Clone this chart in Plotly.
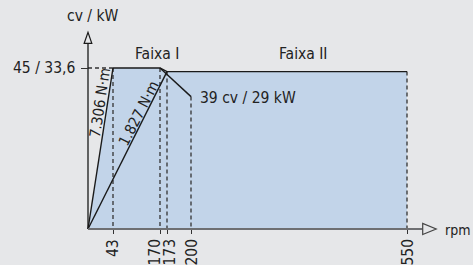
import plotly.graph_objects as go

# ---- data (schematic chart) ----
rpm_labels = ["43", "170", "173", "200", "550"]          # x tick labels (rpm)
rpm_axis_pos = [25, 72, 79, 103, 319]                    # schematic axis positions of those rpm
power_max_cv = 45                                        # 45 cv / 33,6 kW
power_label = "45 / 33,6"
power_flat2_cv = 44                                      # schematic level of Faixa II plateau
power_200_cv = 37                                        # schematic end of falling line (39 cv / 29 kW)
torque_labels = ["7.306 N·m", "1.827 N·m"]
range_labels = ["Faixa I", "Faixa II"]
point_label = "39 cv / 29 kW"

W, H = 473, 265
ORX, ORY = 88, 229          # pixel origin
YS = 161 / 45               # px per cv
FONT = "DejaVu Sans Condensed, Liberation Sans Narrow, Roboto, sans-serif"
FS = 15.5
TXT = "#222222"
LINE = "#1a1a1a"
DASH = "#333333"
BG = "#e6e7e9"
FILL = "#c2d4e9"
label_xshift = [0, -6, 2, 0, 0]   # styling: nudge crowded tick labels

p43, p170, p173, p200, p550 = rpm_axis_pos

fig = go.Figure()

# filled power region
fig.add_trace(go.Scatter(
    x=[0, p43, p170, p173, p550, p550, 0],
    y=[0, power_max_cv, power_max_cv, power_flat2_cv, power_flat2_cv, 0, 0],
    mode="none", fill="toself", fillcolor=FILL, hoverinfo="skip", showlegend=False))

dash_style = dict(color=DASH, width=1.3, dash="4px,3px")
# dashed guides
for xv, yv in [(p43, power_max_cv), (p170, power_max_cv), (p173, power_flat2_cv),
               (p200, power_200_cv), (p550, power_flat2_cv)]:
    fig.add_trace(go.Scatter(x=[xv, xv], y=[yv, 0], mode="lines", line=dash_style,
                             hoverinfo="skip", showlegend=False))
fig.add_trace(go.Scatter(x=[0, p43], y=[power_max_cv, power_max_cv], mode="lines",
                         line=dash_style, hoverinfo="skip", showlegend=False))

solid = dict(color=LINE, width=1.4)
# power outline
fig.add_trace(go.Scatter(x=[p43, p170, p173, p550],
                         y=[power_max_cv, power_max_cv, power_flat2_cv, power_flat2_cv],
                         mode="lines", line=solid, hoverinfo="skip", showlegend=False))
# falling line to 200 rpm
fig.add_trace(go.Scatter(x=[p170, p200], y=[power_max_cv, power_200_cv], mode="lines",
                         line=solid, hoverinfo="skip", showlegend=False))
# torque lines
fig.add_trace(go.Scatter(x=[0, p43], y=[0, power_max_cv], mode="lines", line=solid,
                         hoverinfo="skip", showlegend=False))
fig.add_trace(go.Scatter(x=[0, p173], y=[0, power_flat2_cv], mode="lines", line=solid,
                         hoverinfo="skip", showlegend=False))

# axes lines
y_top = (ORY - 43.3) / YS
fig.add_trace(go.Scatter(x=[0, 0], y=[0, y_top], mode="lines", line=dict(color=LINE, width=1.3),
                         hoverinfo="skip", showlegend=False))
x_end = 422.7 - ORX
fig.add_trace(go.Scatter(x=[0, x_end], y=[0, 0], mode="lines", line=dict(color="#6e6f72", width=2),
                         hoverinfo="skip", showlegend=False))

# arrow heads (hollow)
y_tip = (ORY - 32.3) / YS
fig.add_shape(type="path", xref="x", yref="y",
              path=f"M -3.8 {y_top} L 0 {y_tip} L 3.8 {y_top} Z",
              line=dict(color=LINE, width=1.2), fillcolor=BG)
dy = 5.5 / YS
fig.add_shape(type="path", xref="x", yref="y",
              path=f"M {x_end} {-dy} L {x_end + 13.5} 0 L {x_end} {dy} Z",
              line=dict(color="#444", width=1.2), fillcolor=BG)

def ann(text, x, y, angle=0, xanchor="center", yanchor="middle", size=FS, xshift=0, yshift=0):
    fig.add_annotation(x=x, y=y, text=text, showarrow=False, textangle=angle,
                       xanchor=xanchor, yanchor=yanchor, xshift=xshift, yshift=yshift,
                       borderpad=0, font=dict(family=FONT, size=size, color=TXT))

ann("cv / kW", 93 - ORX, (ORY - 15.7) / YS)
ann(range_labels[0], 157 - ORX, (ORY - 54) / YS)
ann(range_labels[1], 302.7 - ORX, (ORY - 54) / YS)
ann(point_label, 199 - ORX, (ORY - 98) / YS, xanchor="left")
ann("rpm", 444 - ORX, -0.3, xanchor="left", size=14)
ann(torque_labels[0], 100 - ORX, (ORY - 103) / YS, angle=-81.5, size=15)
ann(torque_labels[1], 138.5 - ORX, (ORY - 114) / YS, angle=-63, size=15)
ann(power_label, 75.5 - ORX, power_max_cv, xanchor="right")

# rotated rpm tick labels
for pos, lab, sh in zip(rpm_axis_pos, rpm_labels, label_xshift):
    ann(lab, pos, 0, angle=-90, yanchor="top", xshift=sh, yshift=-9)

fig.update_layout(
    width=W, height=H, margin=dict(l=0, r=0, t=0, b=0, autoexpand=False),
    paper_bgcolor=BG, plot_bgcolor=BG,
    font=dict(family=FONT, size=FS, color=TXT),
    xaxis=dict(range=[-ORX, W - ORX], domain=[0, 1], showgrid=False, zeroline=False,
               automargin=False, anchor="free", position=(H - ORY) / H,
               showline=False, tickvals=rpm_axis_pos, showticklabels=False,
               ticks="outside", ticklen=4, tickwidth=1.3, tickcolor=DASH, fixedrange=True),
    yaxis=dict(range=[-(H - ORY) / YS, ORY / YS], domain=[0, 1], anchor="free",
               position=ORX / W, showgrid=False, automargin=False,
               zeroline=False, showline=False, tickvals=[power_max_cv], showticklabels=False,
               ticks="outside", ticklen=7, tickwidth=1.3, tickcolor=DASH, fixedrange=True),
    showlegend=False,
)

fig.write_html("out.html", config={"displayModeBar": False},
               post_script="document.body.style.margin='0';document.body.style.background='#e6e7e9';")
